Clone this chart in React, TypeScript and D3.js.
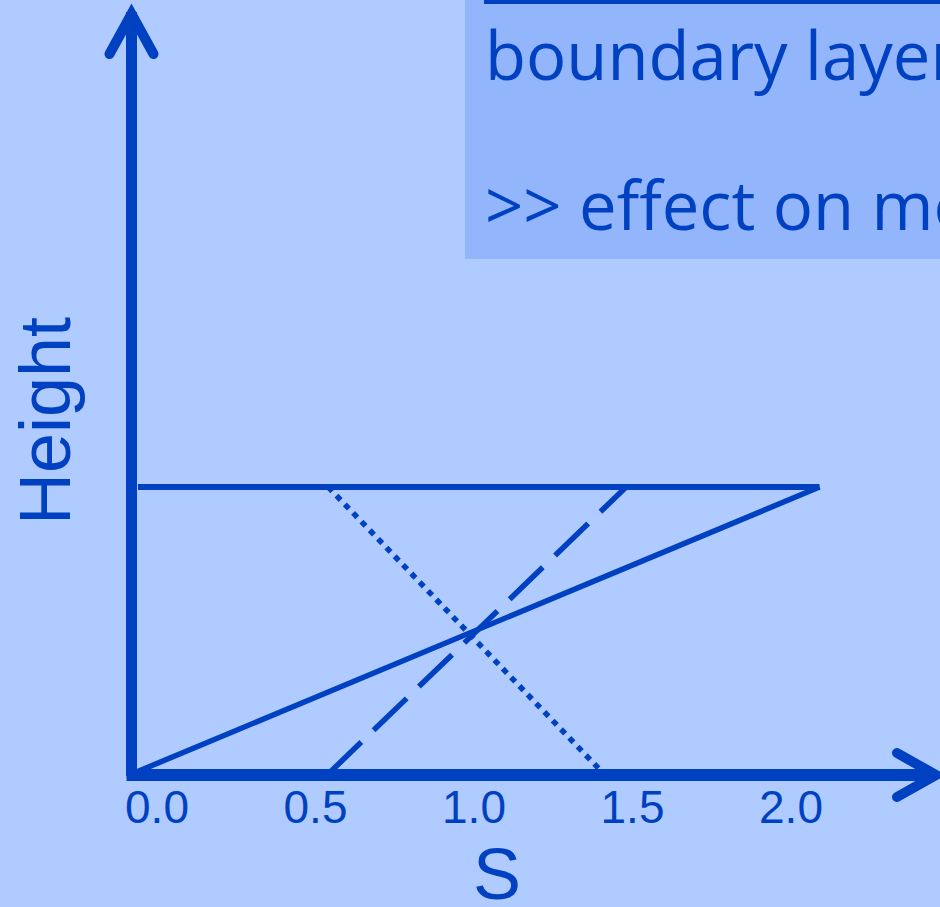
import React from "react";
import * as d3 from "d3";

// ---- data ----
const TICK_VALUES = [0, 0.5, 1.0, 1.5, 2.0];
const TICK_LABELS = ["0.0", "0.5", "1.0", "1.5", "2.0"];
const SOLID_S = [-0.08, 2.09];
const SOLID_H = [0, 1];
const DASHED_S = [0.54, 1.48];
const DASHED_H = [0, 1];
const DOTTED_S = [0.54, 1.41];
const DOTTED_H = [1, 0];
const TOP_S = [-0.06, 2.09];
const TOP_H = [1, 1];
const BOX_LINES = ["boundary layer", ">> effect on mo"];
const X_TITLE = "S";
const Y_TITLE = "Height";

// ---- style ----
const W = 940;
const H = 907;
const BG = "#b0cbff";
const BOX_BG = "#93b5fc";
const BLUE = "#0041c2";
const SANS = "'Liberation Sans', Arial, sans-serif";
const BOX_FONT = "'Open Sans', 'Noto Sans', sans-serif";

const x = d3.scaleLinear().domain([0, 2]).range([157, 791]);
const y = d3.scaleLinear().domain([0, 1]).range([774, 487]);

const line = d3
  .line<[number, number]>()
  .x((d) => x(d[0]))
  .y((d) => y(d[1]));

const pts = (s: number[], h: number[]): [number, number][] =>
  s.map((v, i) => [v, h[i]]);

export default function App() {
  const ox = 131.5;
  const oy = 775;
  return (
    <svg
      width={W}
      height={H}
      style={{ position: "absolute", left: 0, top: 0, display: "block" }}
    >
      <rect x={0} y={0} width={W} height={H} fill={BG} />
      {/* text box */}
      <rect x={465} y={0} width={W - 465} height={259} fill={BOX_BG} />
      <line x1={484} y1={0} x2={W} y2={0} stroke={BLUE} strokeWidth={8} />
      {BOX_LINES.map((t, i) => (
        <text
          key={i}
          x={485}
          y={80 + i * 150}
          fill={BLUE}
          fontFamily={BOX_FONT}
          fontSize={67}
        >
          {t}
        </text>
      ))}

      {/* data lines */}
      <path
        d={line(pts(TOP_S, TOP_H)) || ""}
        stroke={BLUE}
        strokeWidth={6}
        fill="none"
      />
      <path
        d={line(pts(SOLID_S, SOLID_H)) || ""}
        stroke={BLUE}
        strokeWidth={5.5}
        fill="none"
      />
      <path
        d={line(pts(DASHED_S, DASHED_H)) || ""}
        stroke={BLUE}
        strokeWidth={5.5}
        strokeDasharray="46 17"
        fill="none"
      />
      <path
        d={line(pts(DOTTED_S, DOTTED_H)) || ""}
        stroke={BLUE}
        strokeWidth={5.5}
        strokeDasharray="6 6"
        fill="none"
      />

      {/* axes */}
      <line x1={ox} y1={oy + 1} x2={ox} y2={12} stroke={BLUE} strokeWidth={11} />
      <polyline
        points={`${ox - 22},${54} ${ox},${14} ${ox + 22},${54}`}
        stroke={BLUE}
        strokeWidth={10}
        fill="none"
        strokeLinecap="round"
        strokeLinejoin="miter"
      />
      <line x1={ox - 5} y1={oy} x2={934} y2={oy} stroke={BLUE} strokeWidth={12} />
      <polyline
        points={`${897},${753} ${936},${oy} ${897},${797}`}
        stroke={BLUE}
        strokeWidth={10}
        fill="none"
        strokeLinecap="round"
        strokeLinejoin="miter"
      />

      {/* tick labels */}
      {TICK_VALUES.map((v, i) => (
        <text
          key={v}
          x={x(v)}
          y={823}
          textAnchor="middle"
          fill={BLUE}
          fontFamily={SANS}
          fontSize={46}
        >
          {TICK_LABELS[i]}
        </text>
      ))}

      {/* axis titles */}
      <text
        x={497}
        y={899}
        textAnchor="middle"
        fill={BLUE}
        fontFamily={SANS}
        fontSize={72}
      >
        {X_TITLE}
      </text>
      <text
        transform={`translate(70,421) rotate(-90)`}
        textAnchor="middle"
        fill={BLUE}
        fontFamily={SANS}
        fontSize={72}
      >
        {Y_TITLE}
      </text>
    </svg>
  );
}
